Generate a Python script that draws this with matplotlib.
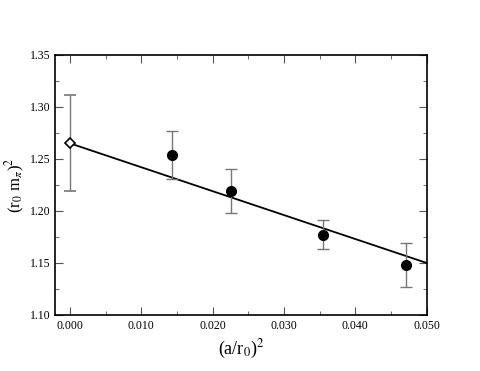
import numpy as np
import matplotlib
matplotlib.use("Agg")
import matplotlib.pyplot as plt
from matplotlib.ticker import MultipleLocator

# data
a2 = [0.0143, 0.0226, 0.0354, 0.0471]
r0mpi2 = [1.254, 1.219, 1.177, 1.148]
r0mpi2_err = [0.023, 0.021, 0.014, 0.021]

a2_cont = [0.0]
r0mpi2_cont = [1.265]
r0mpi2_cont_err = [0.046]

fit_x = [0.0, 0.050]
fit_y = [1.265, 1.150]

plt.rcParams['font.family'] = ['Liberation Serif', 'DejaVu Serif']
plt.rcParams['mathtext.fontset'] = 'stix'

fig = plt.figure(figsize=(4.8, 3.71), dpi=100)
ax = fig.add_axes([0.1146, 0.151, 0.7744, 0.701])

ax.plot(fit_x, fit_y, 'k-', lw=1.3, zorder=2)
ax.errorbar(a2, r0mpi2, yerr=r0mpi2_err, fmt='o', color='black', ms=7,
            ecolor='#777777', elinewidth=1, capsize=4, capthick=1, zorder=3)
ax.errorbar(a2_cont, r0mpi2_cont, yerr=r0mpi2_cont_err, fmt='D', mfc='white',
            mec='black', mew=1.2, ms=5, ecolor='#777777', elinewidth=1,
            capsize=4, capthick=1, zorder=3)

ax.set_xlim(-0.0021, 0.050)
ax.set_ylim(1.10, 1.35)
ax.xaxis.set_major_locator(MultipleLocator(0.01))
ax.xaxis.set_minor_locator(MultipleLocator(0.005))
ax.yaxis.set_major_locator(MultipleLocator(0.05))
ax.yaxis.set_minor_locator(MultipleLocator(0.025))
ax.xaxis.set_major_formatter(plt.FormatStrFormatter('%.3f'))
ax.yaxis.set_major_formatter(plt.FormatStrFormatter('%.2f'))
ax.tick_params(which='both', direction='in', top=True, right=True,
               labelsize=8.5, color='#555555')
ax.tick_params(which='major', length=6)
ax.tick_params(which='minor', length=3)
for s in ax.spines.values():
    s.set_linewidth(1.2)

ax.set_xlabel(r'(a/r$_0$)$^2$', fontsize=13, labelpad=4)
ax.set_ylabel(r'(r$_0$ m$_\pi$)$^2$', fontsize=12)
ax.yaxis.set_label_coords(-0.075, 0.5)

fig.savefig('out.png', dpi=100)
